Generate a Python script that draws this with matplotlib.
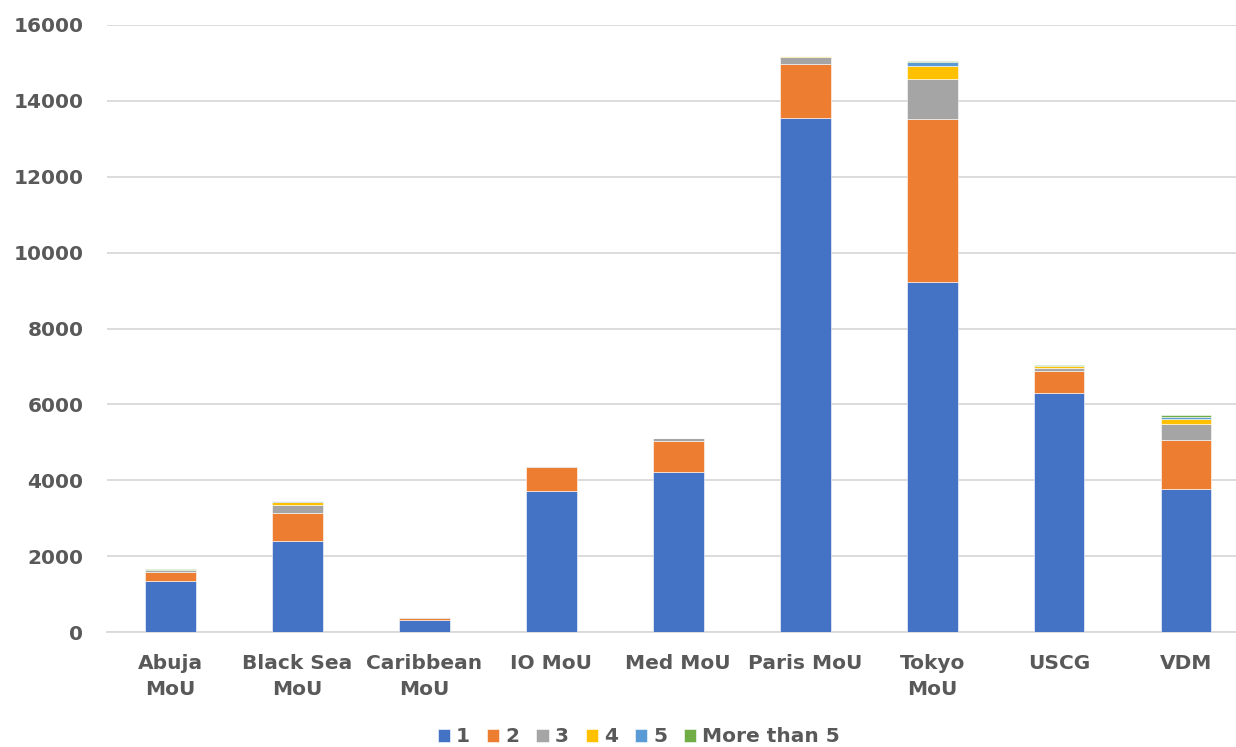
import matplotlib.pyplot as plt
import numpy as np

# categories (x axis)
regions = ['Abuja\nMoU', 'Black Sea\nMoU', 'Caribbean\nMoU', 'IO MoU', 'Med MoU',
           'Paris MoU', 'Tokyo\nMoU', 'USCG', 'VDM']

# stacked series values
s1 = [1350, 2400, 325, 3725, 4230, 13550, 9230, 6300, 3770]
s2 = [240, 745, 55, 615, 805, 1430, 4290, 580, 1280]
s3 = [40, 200, 10, 25, 70, 170, 1045, 90, 420]
s4 = [10, 80, 3, 3, 10, 25, 360, 40, 150]
s5 = [5, 25, 2, 2, 5, 15, 95, 10, 45]
s6 = [3, 10, 1, 1, 3, 5, 35, 5, 50]

series = [s1, s2, s3, s4, s5, s6]
names = ['1', '2', '3', '4', '5', 'More than 5']
colors = ['#4472C4', '#ED7D31', '#A5A5A5', '#FFC000', '#5B9BD5', '#70AD47']

txt = '#595959'
plt.rcParams['font.family'] = 'DejaVu Sans'
plt.rcParams['font.weight'] = 'bold'

fig = plt.figure(figsize=(12.36, 7.47), dpi=100)
ax = fig.add_axes([107/1236, 115/747, (1236-107)/1236, 607/747])

x = np.arange(len(regions))
bottom = np.zeros(len(regions))
for vals, name, c in zip(series, names, colors):
    ax.bar(x, vals, width=0.4, bottom=bottom, color=c, label=name,
           edgecolor='white', linewidth=0.4, zorder=3)
    bottom += np.array(vals)

ax.set_ylim(0, 16000)
ax.set_xlim(-0.5, 8 + 50/127)
ax.set_yticks(range(0, 16001, 2000))
ax.set_xticks(x)
ax.set_xticklabels(regions, fontsize=14.5, color=txt, fontweight='bold', linespacing=1.45)
ax.tick_params(axis='y', labelsize=14.5, labelcolor=txt, length=0, pad=17)
ax.tick_params(axis='x', length=0, pad=16)
for lbl in ax.get_yticklabels():
    lbl.set_fontweight('bold')

ax.grid(axis='y', color='#D9D9D9', linewidth=1.3, zorder=0)
for sp in ['top', 'right', 'left']:
    ax.spines[sp].set_visible(False)
ax.spines['bottom'].set_color('#D9D9D9')
ax.spines['bottom'].set_linewidth(1.3)

leg = fig.legend(loc='center', bbox_to_anchor=(0.517, 10/747), ncol=6,
                 frameon=False, fontsize=14.5, handlelength=0.6, handleheight=0.6,
                 handletextpad=0.3, columnspacing=0.85)
for t in leg.get_texts():
    t.set_color(txt)
    t.set_fontweight('bold')

fig.savefig('out.png', dpi=100)
